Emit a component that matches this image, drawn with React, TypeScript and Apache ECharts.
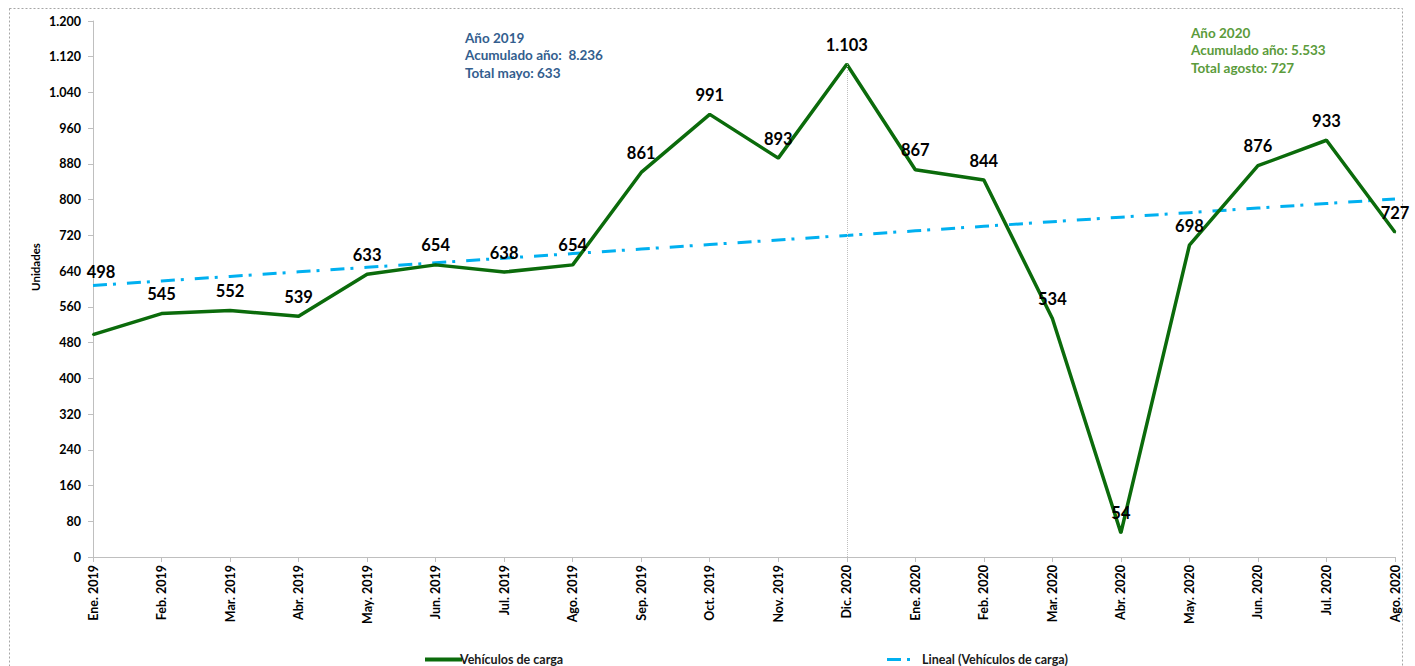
import React, { useEffect, useRef } from "react";
import * as echarts from "echarts";

const categories = [
  "Ene. 2019", "Feb. 2019", "Mar. 2019", "Abr. 2019", "May. 2019", "Jun. 2019",
  "Jul. 2019", "Ago. 2019", "Sep. 2019", "Oct. 2019", "Nov. 2019", "Dic. 2020",
  "Ene. 2020", "Feb. 2020", "Mar. 2020", "Abr. 2020", "May. 2020", "Jun. 2020",
  "Jul. 2020", "Ago. 2020",
];
const vehiculos = [498, 545, 552, 539, 633, 654, 638, 654, 861, 991, 893, 1103, 867, 844, 534, 54, 698, 876, 933, 727];

const seriesName = "Vehículos de carga";
const trendName = "Lineal (Vehículos de carga)";
const annotation2019 = ["Año 2019", "Acumulado año:  8.236", "Total mayo: 633"];
const annotation2020 = ["Año 2020", "Acumulado año: 5.533", "Total agosto: 727"];

const FONT = "Lato, 'Liberation Sans', sans-serif";
const GREEN = "#0B6B0B";
const BLUE = "#00B0F0";

function fmt(v: number): string {
  return String(Math.round(v)).replace(/\B(?=(\d{3})+(?!\d))/g, ".");
}

// Excel-style linear trendline (least squares) derived from the series
function linearTrend(values: number[]): number[] {
  const n = values.length;
  const mx = (n - 1) / 2;
  const my = values.reduce((a, b) => a + b, 0) / n;
  let sxy = 0, sxx = 0;
  values.forEach((y, i) => { sxy += (i - mx) * (y - my); sxx += (i - mx) * (i - mx); });
  const slope = sxy / sxx;
  const intercept = my - slope * mx;
  return values.map((_, i) => intercept + slope * i);
}

export default function App() {
  const ref = useRef<HTMLDivElement>(null);
  useEffect(() => {
    if (!ref.current) return;
    const chart = echarts.init(ref.current, null, { renderer: "svg" });
    const trend = linearTrend(vehiculos);
    const peakIdx = categories.indexOf("Dic. 2020");
    const mainData = vehiculos.map((v, i) =>
      i === 0 ? { value: v, label: { offset: [8, -43] } } : v
    );
    const legendText = { fontWeight: "bold", fontSize: 12.5, color: "#1a1a1a", fontFamily: FONT };
    chart.setOption({
      animation: false,
      backgroundColor: "#ffffff",
      textStyle: { fontFamily: FONT },
      grid: { left: 93, right: 20, top: 21, bottom: 109, containLabel: false },
      xAxis: {
        type: "category",
        data: categories,
        boundaryGap: false,
        axisLine: { lineStyle: { color: "#BFBFBF", width: 1 } },
        axisTick: { show: true, length: 5, lineStyle: { color: "#BFBFBF" }, alignWithLabel: true },
        axisLabel: {
          rotate: 90,
          margin: 8,
          interval: 0,
          color: "#000000",
          fontWeight: "bold",
          fontSize: 12.5,
          fontFamily: FONT,
        },
        splitLine: { show: false },
      },
      yAxis: {
        type: "value",
        min: 0,
        max: 1200,
        interval: 80,
        axisLine: { show: true, lineStyle: { color: "#BFBFBF", width: 1 } },
        axisTick: { show: true, length: 5, lineStyle: { color: "#BFBFBF" } },
        axisLabel: {
          margin: 12,
          color: "#000000",
          fontWeight: "bold",
          fontSize: 12.5,
          fontFamily: FONT,
          formatter: (v: number) => fmt(v),
        },
        splitLine: { show: false },
      },
      legend: [
        {
          data: [{ name: seriesName, icon: "path://M0,0 H37 V4 H0 Z", itemStyle: { color: GREEN } }],
          left: 420,
          top: 648,
          itemWidth: 37,
          itemHeight: 4,
          textStyle: { ...legendText, padding: [0, 0, 0, -7] },
        },
        {
          data: [{ name: trendName, icon: "path://M0,0 H14 V3 H0 Z M20,0 H23 V3 H20 Z", itemStyle: { color: BLUE } }],
          left: 882,
          top: 648,
          itemWidth: 23,
          itemHeight: 3,
          textStyle: { ...legendText, padding: [0, 0, 0, 7] },
        },
      ],
      series: [
        {
          name: seriesName,
          type: "line",
          data: mainData,
          symbol: "circle",
          symbolSize: 2,
          showSymbol: true,
          lineStyle: { color: GREEN, width: 3.5 },
          itemStyle: { color: GREEN },
          z: 3,
          label: {
            show: true,
            position: "top",
            distance: 10,
            color: "#000000",
            fontWeight: "bold",
            fontSize: 16.5,
            fontFamily: FONT,
            formatter: (p: any) => fmt(p.value),
          },
          markLine: {
            silent: true,
            symbol: ["none", "none"],
            label: { show: false },
            lineStyle: { type: "dotted", color: "#BFBFBF", width: 1 },
            data: [[{ coord: [peakIdx, 0] }, { coord: [peakIdx, vehiculos[peakIdx]] }]],
          },
        },
        {
          name: trendName,
          type: "line",
          data: trend,
          symbol: "none",
          z: 2,
          lineStyle: { color: BLUE, width: 3, type: [14, 6, 3, 11] },
          itemStyle: { color: BLUE },
        },
      ],
      graphic: [
        {
          type: "rect",
          silent: true,
          shape: { x: 9.5, y: 8.5, width: 1393, height: 680 },
          style: { fill: "none", stroke: "#A6A6A6", lineWidth: 1, lineDash: [2, 2] },
        },
        {
          type: "text",
          x: 35,
          y: 267,
          rotation: Math.PI / 2,
          style: {
            text: "Unidades",
            fill: "#000000",
            font: `bold 11.5px ${FONT}`,
            align: "center",
            verticalAlign: "middle",
          },
        },
        {
          type: "text",
          left: 465,
          top: 29,
          style: {
            text: annotation2019.join("\n"),
            fill: "#335E8E",
            font: `bold 13.5px ${FONT}`,
            lineHeight: 17.5,
          },
        },
        {
          type: "text",
          left: 1191,
          top: 24,
          style: {
            text: annotation2020.join("\n"),
            fill: "#5B9B3B",
            font: `bold 13.5px ${FONT}`,
            lineHeight: 17.5,
          },
        },
      ],
    });
    return () => chart.dispose();
  }, []);
  return (
    <div
      ref={ref}
      style={{ position: "absolute", left: 0, top: 0, width: 1415, height: 666, background: "#fff" }}
    />
  );
}
